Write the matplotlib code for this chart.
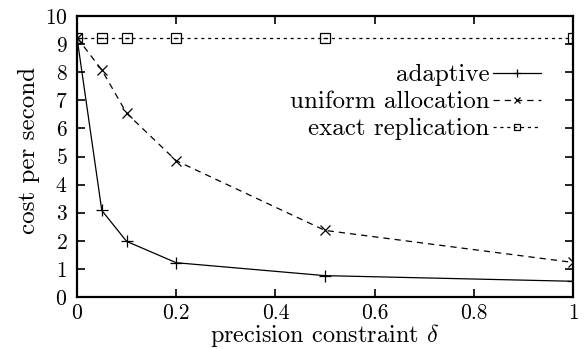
import matplotlib
matplotlib.use("Agg")
from matplotlib import pyplot as plt

plt.rcParams["font.family"] = "serif"
plt.rcParams["font.serif"] = ["cmr10", "DejaVu Serif"]
plt.rcParams["mathtext.fontset"] = "cm"
plt.rcParams["axes.formatter.use_mathtext"] = True

delta = [0, 0.05, 0.1, 0.2, 0.5, 1.0]
adaptive = [9.23, 3.08, 1.98, 1.22, 0.76, 0.56]
uniform = [9.23, 8.08, 6.54, 4.85, 2.37, 1.23]
exact = [9.23, 9.23, 9.23, 9.23, 9.23, 9.23]

xticks = [0, 0.2, 0.4, 0.6, 0.8, 1]
xticklabels = ["0", "0.2", "0.4", "0.6", "0.8", "1"]
yticks = list(range(0, 11))

fig = plt.figure(figsize=(5.84, 3.49), dpi=100)
ax = fig.add_axes([77 / 584, 1 - 297 / 349, 496 / 584, 281 / 349])

ax.plot(delta, adaptive, color="black", lw=0.9, marker="+", ms=9, mew=0.9,
        label="adaptive")
ax.plot(delta, uniform, color="black", lw=0.9, ls=(0, (5, 4)), marker="x",
        ms=7, mew=0.9, label="uniform allocation")
ax.plot(delta, exact, color="black", lw=0.9, ls=(0, (2.5, 3)), marker="s",
        ms=7, mew=0.9, mfc="none", label="exact replication")
# the little dot inside the squares
ax.plot(delta, exact, ls="none", marker="_", ms=3, mew=0.9, color="black")

ax.set_xlim(0, 1)
ax.set_ylim(0, 10)
ax.set_xticks(xticks)
ax.set_xticklabels(xticklabels)
ax.set_yticks(yticks)
ax.tick_params(direction="in", top=True, right=True, length=6, width=1.2,
               labelsize=15.5, pad=7)
ax.tick_params(axis="x", pad=5)
for s in ax.spines.values():
    s.set_linewidth(1.6)

ax.set_xlabel(r"precision constraint $\delta$", fontsize=17.5, labelpad=-1)
ax.set_ylabel("cost per second", fontsize=18)
ax.yaxis.set_label_coords(-0.075, 0.52)

ax.legend(loc="upper right", bbox_to_anchor=(0.935, 0.83), frameon=False,
          markerfirst=False, fontsize=18, handlelength=1.9, markerscale=0.7,
          handletextpad=0.15, labelspacing=0.18, borderpad=0, borderaxespad=0)

fig.savefig("out.png", dpi=100)
